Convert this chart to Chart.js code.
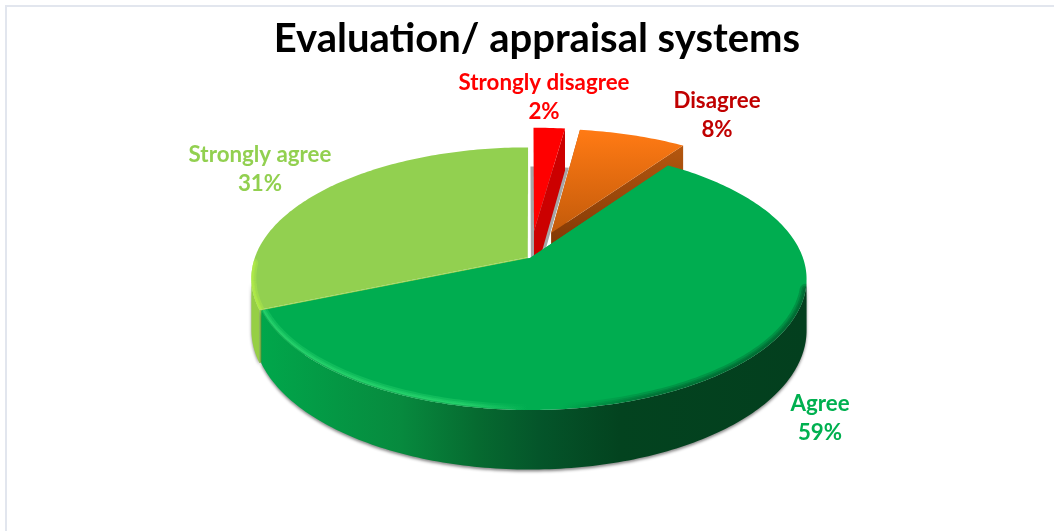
<!DOCTYPE html>
<html>
<head>
<meta charset="utf-8">
<style>
    html, body { margin: 0; padding: 0; background: #fff; overflow: hidden; }
    #wrap { position: absolute; left: 0; top: 0; width: 1054px; height: 531px; }
    #frame { position: absolute; left: 5px; top: 5px; width: 1100px; height: 600px; border: 2px solid #e2e6ee; box-sizing: border-box; }
</style>
<script src="https://cdn.jsdelivr.net/npm/chart.js@4/dist/chart.umd.js"></script>
</head>
<body>
<div id="frame"></div>
<div id="wrap"><canvas id="pieChart"></canvas></div>
<script>
// Datos
const categories = ['Strongly disagree', 'Disagree', 'Agree', 'Strongly agree'];
const shares = [2.2, 7.5, 59, 31.3];
const explode = [0.22, 0.22, 0, 0.01];
const labelColors = ['#ff0000', '#c00000', '#00b050', '#92d050'];

// Vista 3D: perspectiva y profundidad del pastel
const view = { shiftX: -7, rx: 273, ry: 127.7, persp: 0.16, depth: 50 };
// Posicion de las etiquetas (centro, linea superior)
const labelPos = [[544, 83], [717, 101], [820, 404], [260, 155]];

const font = "Lato, 'Open Sans', sans-serif";

function project(cx, cy, u, v, z) {
    const w = 1 - view.persp * v;
    return { x: cx + view.rx * u / w, y: cy + (view.ry * v + view.depth * z) / w };
}

function slicePoints(cx, cy, a0, a1, off, z) {
    const mid = (a0 + a1) / 2;
    const ox = Math.cos(mid) * off, oy = Math.sin(mid) * off;
    const pts = [];
    const n = Math.max(4, Math.round((a1 - a0) * 60));
    for (let i = 0; i <= n; i++) {
        const a = a0 + (a1 - a0) * i / n;
        pts.push(project(cx, cy, ox + Math.cos(a), oy + Math.sin(a), z));
    }
    return { arc: pts, apex: project(cx, cy, ox, oy, z) };
}

function trace(ctx, pts) {
    ctx.beginPath();
    pts.forEach((p, i) => i ? ctx.lineTo(p.x, p.y) : ctx.moveTo(p.x, p.y));
    ctx.closePath();
}

function traceOpen(ctx, pts) {
    ctx.beginPath();
    pts.forEach((p, i) => i ? ctx.lineTo(p.x, p.y) : ctx.moveTo(p.x, p.y));
}

function hGradient(ctx, stops) {
    const g = ctx.createLinearGradient(250, 0, 806, 0);
    stops.forEach(s => g.addColorStop(s[0], s[1]));
    return g;
}

function vGradient(ctx, y0, y1, c0, c1) {
    const g = ctx.createLinearGradient(0, y0, 0, y1);
    g.addColorStop(0, c0);
    g.addColorStop(1, c1);
    return g;
}

function drawSlice(ctx, el, index, cx, cy) {
    const off = explode[index];
    const top = slicePoints(cx, cy, el.startAngle, el.endAngle, off, 0);
    const bot = slicePoints(cx, cy, el.startAngle, el.endAngle, off, 1);
    const n = top.arc.length - 1;

    const styles = [
        { top: '#ff0000', wall: '#b00000', cutA: '#a6a6a6', cutB: '#cc0000' },
        { top: vGradient(ctx, 131, 235, '#ff7a14', '#c25a0a'), wall: '#a84f0c', cutA: '#a84f0c', cutB: vGradient(ctx, 147, 240, '#b4570f', '#843a06') },
        { top: '#00ad50', wall: hGradient(ctx, [[0, '#00a94c'], [0.27, '#078a3e'], [0.41, '#066a30'], [0.52, '#04552a'], [0.665, '#03431f'], [1, '#033f1e']]), cutA: '#00a94c', cutB: '#00a94c' },
        { top: '#92d050', wall: '#96cf45', cutA: '#92d050', cutB: '#a6a6a6' }
    ][index];

    // Sombra gris detras de la porcion pequena
    if (index === 0) {
        ctx.fillStyle = '#a6a6a6';
        ctx.strokeStyle = '#a6a6a6';
        ctx.lineWidth = 6;
        trace(ctx, bot.arc.concat([bot.apex]));
        ctx.fill();
        ctx.stroke();
    }

    // Caras de corte
    ctx.fillStyle = styles.cutA;
    trace(ctx, [top.apex, top.arc[0], bot.arc[0], bot.apex]);
    ctx.fill();
    ctx.fillStyle = styles.cutB;
    trace(ctx, [top.apex, top.arc[n], bot.arc[n], bot.apex]);
    ctx.fill();

    // Pared exterior con sombra suave: solo la parte delantera
    const wallTop = top.arc.filter(p => p.y > cy + 20);
    const wallBot = bot.arc.filter((p, i) => top.arc[i].y > cy + 20);
    if (wallTop.length > 1) {
        ctx.save();
        ctx.shadowColor = 'rgba(0,0,0,0.45)';
        ctx.shadowBlur = 3;
        ctx.shadowOffsetY = 2;
        ctx.fillStyle = styles.wall;
        trace(ctx, wallTop.concat(wallBot.slice().reverse()));
        ctx.fill();
        ctx.restore();
    }

    // Cara superior
    const topPath = top.arc.concat([top.apex]);
    ctx.fillStyle = styles.top;
    trace(ctx, topPath);
    ctx.fill();

    // Bisel: solo en el borde delantero
    ctx.save();
    trace(ctx, topPath);
    ctx.clip();
    ctx.lineCap = 'round';
    if (index === 2) {
        traceOpen(ctx, top.arc.filter(p => p.y > 288));
        ctx.strokeStyle = hGradient(ctx, [[0, 'rgba(70,240,130,0.22)'], [0.38, 'rgba(70,240,130,0.22)'], [0.5, 'rgba(70,240,130,0)'], [0.56, 'rgba(0,50,25,0)'], [0.72, 'rgba(0,50,25,0.18)'], [1, 'rgba(0,50,25,0.22)']]);
        [12, 8, 5].forEach(w => { ctx.lineWidth = w; ctx.stroke(); });
        ctx.strokeStyle = hGradient(ctx, [[0, 'rgba(0,110,50,0.35)'], [0.38, 'rgba(0,110,50,0.35)'], [0.5, 'rgba(0,110,50,0)'], [1, 'rgba(0,110,50,0)']]);
        ctx.lineWidth = 2;
        ctx.stroke();
    } else if (index === 3) {
        traceOpen(ctx, top.arc.filter(p => p.y > cy + 4));
        ctx.strokeStyle = 'rgba(190,245,70,0.3)';
        [10, 6, 4].forEach(w => { ctx.lineWidth = w; ctx.stroke(); });
    }
    ctx.restore();
}

const pie3d = {
    id: 'pie3d',
    beforeDatasetsDraw(chart) {
        const ctx = chart.ctx;
        const arcs = chart.getDatasetMeta(0).data;
        ctx.save();
        // de atras hacia adelante
        [3, 0, 1, 2].forEach(i => {
            drawSlice(ctx, arcs[i], i, arcs[i].x + view.shiftX, 258);
        });
        ctx.restore();
        return false;
    },
    afterDraw(chart) {
        const ctx = chart.ctx;
        ctx.save();
        ctx.font = 'bold 22.3px ' + font;
        ctx.textAlign = 'center';
        ctx.textBaseline = 'middle';
        categories.forEach((name, i) => {
            ctx.fillStyle = labelColors[i];
            ctx.fillText(name, labelPos[i][0], labelPos[i][1]);
            ctx.fillText(Math.round(shares[i]) + '%', labelPos[i][0], labelPos[i][1] + 29);
        });
        ctx.restore();
    }
};

const chart = new Chart(document.getElementById('pieChart'), {
    type: 'pie',
    data: {
        labels: categories,
        datasets: [{ data: shares, backgroundColor: labelColors, borderWidth: 0 }]
    },
    plugins: [pie3d],
    options: {
        responsive: true,
        maintainAspectRatio: false,
        animation: false,
        layout: { padding: { left: 20, top: 15 } },
        plugins: {
            legend: { display: false },
            tooltip: { enabled: false },
            title: {
                display: true,
                text: 'Evaluation/ appraisal systems',
                color: '#000',
                font: { family: font, size: 40, weight: 'bold' },
                padding: { top: 0, bottom: 8 }
            }
        }
    }
});
</script>
</body>
</html>
